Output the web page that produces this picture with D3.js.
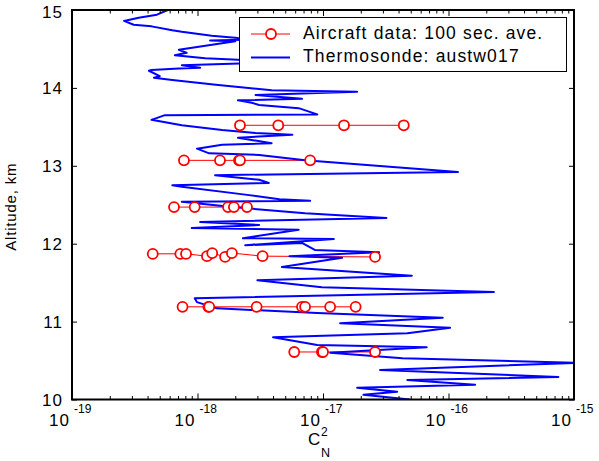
<!DOCTYPE html>
<html>
<head>
<meta charset="utf-8">
<script src="https://cdn.jsdelivr.net/npm/d3@7"></script>
<style>
  body { margin: 0; background: #fff; }
  svg { display: block; font-family: "Liberation Sans", Arial, sans-serif; }
</style>
</head>
<body>
<div class="container"></div>
<script>
// thermosonde profile (altitude km, Cn2)
const sondeAlt = [15.00, 14.94, 14.90, 14.86, 14.81, 14.79, 14.74, 14.72, 14.67, 14.64, 14.63, 14.61, 14.60,
    14.49, 14.45, 14.42, 14.38, 14.36, 14.33, 14.29, 14.26, 14.25, 14.23, 14.22, 14.15, 14.13, 14.10, 14.04,
    13.97, 13.95, 13.91, 13.86, 13.84, 13.81, 13.78, 13.74, 13.66, 13.65, 13.59, 13.52, 13.46, 13.42, 13.40,
    13.36, 13.29, 13.27, 13.22, 13.16, 13.14, 13.07, 12.92, 12.88, 12.82, 12.78, 12.75, 12.73, 12.63, 12.57,
    12.55, 12.54, 12.47, 12.39, 12.33, 12.28, 12.24, 12.20, 12.18, 12.07, 12.06, 11.98, 12.01, 11.92, 11.89,
    11.84, 11.82, 11.70, 11.59, 11.53, 11.44, 11.38, 11.30, 11.25, 11.17, 11.11, 11.05, 10.98, 10.92, 10.85,
    10.80, 10.70, 10.67, 10.60, 10.53, 10.47, 10.38, 10.29, 10.25, 10.19, 10.15, 10.10, 10.06, 10.00];
const sondeCn2 = [5.8e-19, 4.75e-19, 3.4e-19, 2.6e-19, 3.1e-19, 4.3e-19, 6.3e-19, 7.5e-19, 1.3e-18, 2.1e-18, 6.6e-18, 1.26e-18, 2.0e-18,
    7.1e-19, 8.2e-19, 6.6e-19, 1.15e-18, 2.1e-18, 4.5e-18, 7.5e-19, 1.05e-18, 7.1e-19, 4.3e-19, 4.1e-19, 5.0e-19, 4.5e-19, 6.3e-19, 1.4e-18,
    3.9e-18, 1.87e-17, 2.9e-18, 6.8e-18, 2.1e-18, 2.7e-18, 3.1e-18, 6.4e-18, 9.0e-18, 5.5e-19, 4.3e-19, 7.5e-19, 1.57e-18, 2.9e-18, 5.7e-18,
    2.1e-18, 3.9e-18, 1.57e-18, 9.9e-19, 1.24e-18, 3.1e-18, 7.2e-18, 1.19e-16, 1.38e-18, 3.1e-18, 3.7e-18, 6.3e-19, 7.5e-19, 2.4e-18, 4.5e-18,
    7.9e-18, 7.5e-19, 1.9e-18, 7.2e-18, 3.2e-17, 1.05e-18, 3.1e-18, 9.0e-19, 6.4e-18, 2.3e-18, 1.22e-17, 2.4e-18, 6.8e-18, 8.6e-18, 2.8e-17,
    5.4e-18, 1.42e-17, 4.7e-18, 5.1e-17, 3.0e-18, 9.8e-18, 2.3e-16, 9.5e-19, 9.9e-19, 1.43e-18, 9.0e-18, 9.0e-17, 1.37e-17, 1.03e-16, 4.7e-17,
    4.0e-18, 9.0e-18, 6.7e-17, 1.14e-17, 4.3e-17, 1.05e-15, 2.85e-17, 7.5e-16, 4.7e-17, 1.63e-16, 1.87e-17, 3.9e-17, 2.1e-17, 4.9e-17];

// aircraft 100 s averages, one leg per flight level
const aircraftLeg = [0, 0, 0, 0, 1, 1, 1, 1, 1, 2, 2, 2, 2, 2, 3, 3, 3, 3, 3, 3, 3, 3, 3, 4, 4, 4, 4, 4, 4, 4, 4, 5, 5, 5, 5];
const aircraftAlt = [13.52, 13.52, 13.52, 13.52, 13.07, 13.07, 13.07, 13.07, 13.07, 12.47, 12.47, 12.47, 12.47, 12.47,
    11.87, 11.87, 11.87, 11.84, 11.88, 11.83, 11.88, 11.84, 11.83,
    11.19, 11.19, 11.19, 11.19, 11.19, 11.19, 11.19, 11.19, 10.61, 10.61, 10.61, 10.61];
const aircraftCn2 = [2.18e-18, 4.4e-18, 1.47e-17, 4.4e-17, 7.8e-19, 1.51e-18, 2.14e-18, 2.18e-18, 7.9e-18,
    6.5e-19, 9.5e-19, 1.75e-18, 1.95e-18, 2.48e-18,
    4.4e-19, 7.3e-19, 8.1e-19, 1.19e-18, 1.31e-18, 1.66e-18, 1.88e-18, 3.3e-18, 2.6e-17,
    7.6e-19, 1.22e-18, 1.24e-18, 2.96e-18, 6.8e-18, 7.2e-18, 1.14e-17, 1.82e-17,
    5.9e-18, 9.8e-18, 1.0e-17, 2.6e-17];

const xDecades = [1e-19, 1e-18, 1e-17, 1e-16, 1e-15];
const xDecadeLabels = ['-19', '-18', '-17', '-16', '-15'];
const yTicks = [10, 11, 12, 13, 14, 15];
const legendLabels = ['Aircraft data: 100 sec. ave.', 'Thermosonde: austw017'];

const width = 599, height = 461;
const margin = { left: 72, right: 25, top: 10, bottom: 61.5 };
const red = '#ff0000', blue = '#0000ff';

const x = d3.scaleLog().domain([1e-19, 1e-15]).range([margin.left, width - margin.right]);
const y = d3.scaleLinear().domain([10, 15]).range([height - margin.bottom, margin.top]);

const svg = d3.select('.container').append('svg')
    .attr('width', width)
    .attr('height', height);

svg.append('clipPath').attr('id', 'plot-clip')
    .append('rect')
    .attr('x', x.range()[0]).attr('y', y.range()[1])
    .attr('width', x.range()[1] - x.range()[0])
    .attr('height', y.range()[0] - y.range()[1]);

const plot = svg.append('g').attr('clip-path', 'url(#plot-clip)');

const aircraft = aircraftCn2.map((v, i) => ({ v, alt: aircraftAlt[i], leg: aircraftLeg[i] }));
const legs = d3.groups(aircraft, d => d.leg).map(g => g[1].sort((a, b) => a.v - b.v));

const line = d3.line().x(d => x(d.v)).y(d => y(d.alt));

// aircraft connecting lines
plot.selectAll('.leg')
    .data(legs)
    .enter()
    .append('path')
    .attr('class', 'leg')
    .attr('d', line)
    .attr('fill', 'none')
    .attr('stroke', red)
    .attr('stroke-width', 1);

// thermosonde profile
const sonde = sondeCn2.map((v, i) => ({ v, alt: sondeAlt[i] }));
plot.append('path')
    .datum(sonde)
    .attr('d', line)
    .attr('fill', 'none')
    .attr('stroke', blue)
    .attr('stroke-width', 2)
    .attr('stroke-linejoin', 'round');

// aircraft markers
plot.selectAll('.marker')
    .data(aircraft)
    .enter()
    .append('circle')
    .attr('class', 'marker')
    .attr('cx', d => x(d.v))
    .attr('cy', d => y(d.alt))
    .attr('r', 5)
    .attr('fill', '#fff')
    .attr('stroke', red)
    .attr('stroke-width', 1.8);

// axes, ticks pointing inward
const minor = x.ticks().filter(t => !xDecades.some(d => Math.abs(t / d - 1) < 1e-6));
const yBottom = y.range()[0], yTop = y.range()[1];

svg.append('g').attr('transform', `translate(0,${yBottom})`)
    .call(d3.axisBottom(x).tickValues(minor).tickSize(-3.5).tickFormat(''));
svg.append('g').attr('transform', `translate(0,${yTop})`)
    .call(d3.axisTop(x).tickValues(minor).tickSize(-3.5).tickFormat(''));
svg.append('g').attr('transform', `translate(0,${yBottom})`)
    .call(d3.axisBottom(x).tickValues(xDecades).tickSize(-6).tickFormat(''));
svg.append('g').attr('transform', `translate(0,${yTop})`)
    .call(d3.axisTop(x).tickValues(xDecades).tickSize(-6).tickFormat(''));
svg.append('g').attr('transform', `translate(${x.range()[0]},0)`)
    .call(d3.axisLeft(y).tickValues(yTicks).tickSize(-5).tickFormat(''));
svg.append('g').attr('transform', `translate(${x.range()[1]},0)`)
    .call(d3.axisRight(y).tickValues(yTicks).tickSize(-5).tickFormat(''));

svg.selectAll('.domain').remove();
svg.selectAll('.tick line').attr('stroke', '#000').attr('stroke-width', 1);

svg.append('rect')
    .attr('x', x.range()[0]).attr('y', yTop)
    .attr('width', x.range()[1] - x.range()[0])
    .attr('height', yBottom - yTop)
    .attr('fill', 'none')
    .attr('stroke', '#000')
    .attr('stroke-width', 2);

// tick labels
const xLab = svg.append('g').selectAll('g')
    .data(xDecades)
    .enter()
    .append('g');
xLab.append('text')
    .attr('x', d => x(d) - 2)
    .attr('y', 426)
    .attr('text-anchor', 'end')
    .attr('font-size', 17)
    .attr('letter-spacing', 1)
    .text('10');
xLab.append('text')
    .attr('x', d => x(d) + 2)
    .attr('y', 412.5)
    .attr('font-size', 12)
    .text((d, i) => xDecadeLabels[i]);

svg.append('g').selectAll('text')
    .data(yTicks)
    .enter()
    .append('text')
    .attr('x', 63)
    .attr('y', d => y(d) + (d === 15 ? 7.5 : 6.5))
    .attr('text-anchor', 'end')
    .attr('font-size', 17)
    .attr('letter-spacing', 1)
    .text(d => d);

// axis titles
svg.append('text')
    .attr('transform', `translate(16,${(yTop + yBottom) / 2 + 2}) rotate(-90)`)
    .attr('text-anchor', 'middle')
    .attr('font-size', 15)
    .attr('letter-spacing', 0.8)
    .text('Altitude, km');

const xTitle = svg.append('g');
xTitle.append('text').attr('x', 308).attr('y', 444.5).attr('font-size', 17).text('C');
xTitle.append('text').attr('x', 321).attr('y', 436).attr('font-size', 12).text('2');
xTitle.append('text').attr('x', 321).attr('y', 457).attr('font-size', 12.5).text('N');

// legend
const legend = svg.append('g').attr('id', 'legend');
legend.append('rect')
    .attr('x', 239.5).attr('y', 17.5)
    .attr('width', 327).attr('height', 54)
    .attr('fill', '#fff')
    .attr('stroke', '#000')
    .attr('stroke-width', 1);

const legendItem = legend.selectAll('.legend-item')
    .data(legendLabels)
    .enter()
    .append('g')
    .attr('class', 'legend-item')
    .attr('transform', (d, i) => `translate(0,${34 + i * 23.5})`);

legendItem.append('line')
    .attr('x1', 251).attr('x2', 290)
    .attr('stroke', (d, i) => i === 0 ? red : blue)
    .attr('stroke-width', (d, i) => i === 0 ? 1 : 2);

legendItem.filter((d, i) => i === 0)
    .append('circle')
    .attr('cx', 271).attr('r', 5)
    .attr('fill', '#fff')
    .attr('stroke', red)
    .attr('stroke-width', 1.8);

legendItem.append('text')
    .attr('x', 303)
    .attr('y', 4.5)
    .attr('font-size', 17.5)
    .attr('letter-spacing', 1.15)
    .text(d => d);
</script>
</body>
</html>
